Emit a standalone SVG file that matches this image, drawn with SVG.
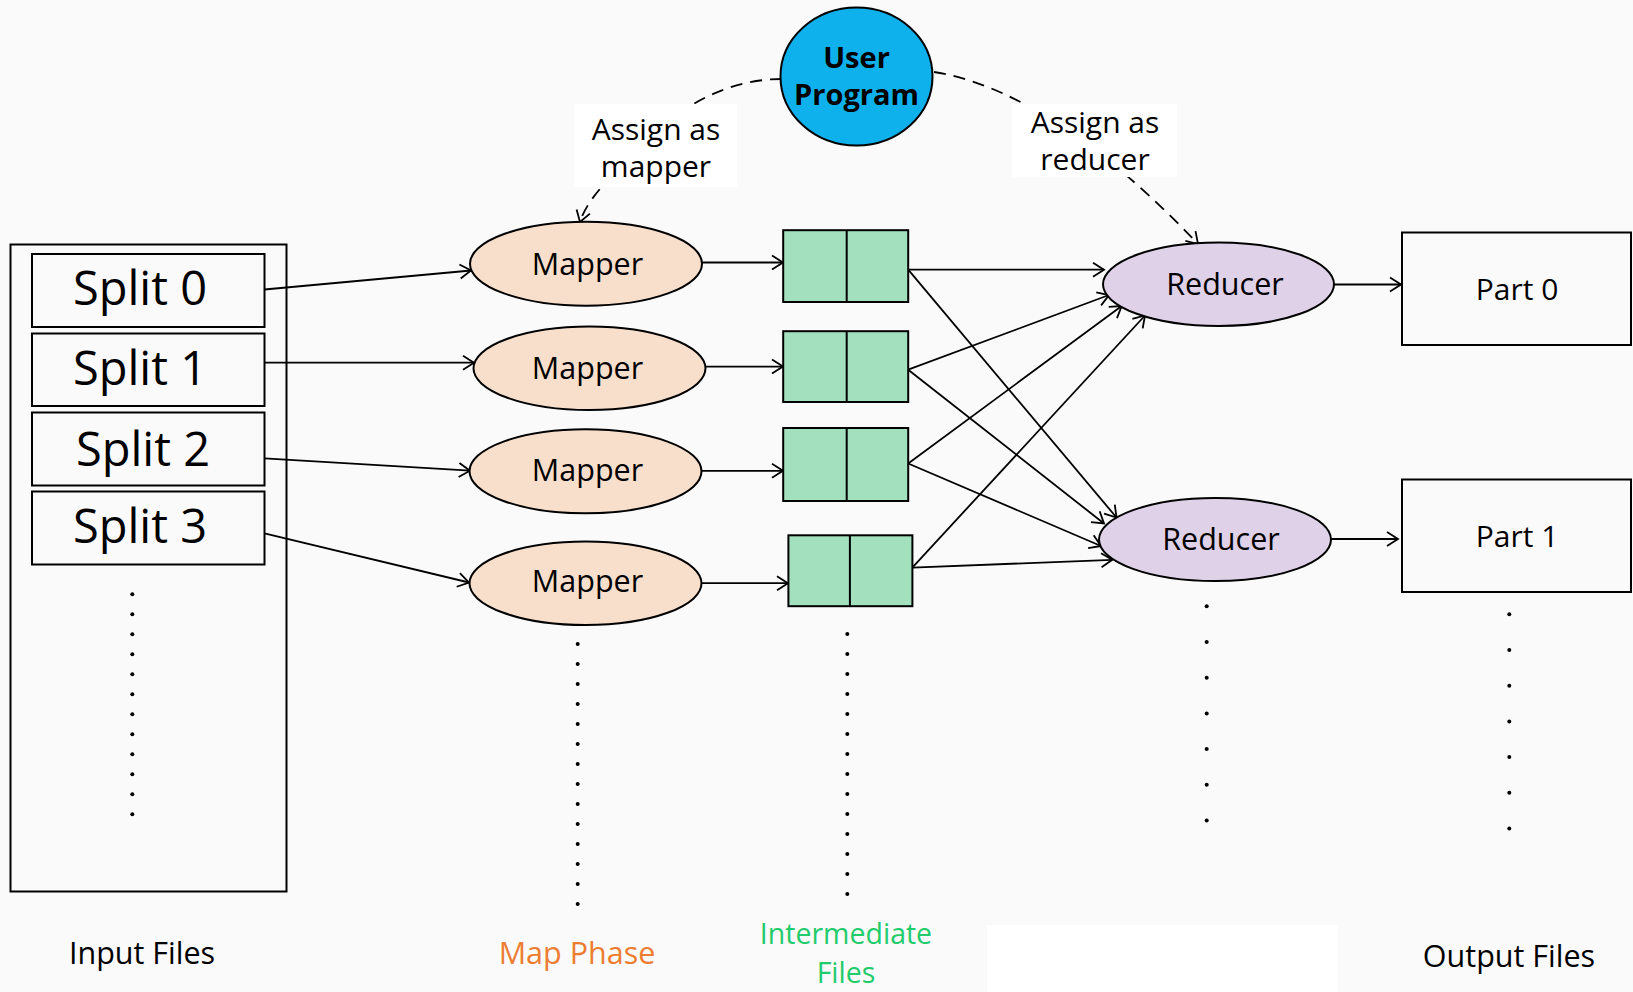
<svg xmlns="http://www.w3.org/2000/svg" width="1633" height="992" viewBox="0 0 1633 992">
  <style>
    text { font-family: "Open Sans", "Liberation Sans", sans-serif; fill: #000; }
    .box { fill: none; stroke: #000; stroke-width: 2; }
    .split { fill: none; stroke: #000; stroke-width: 2; }
    .split-t { font-size: 47px; text-anchor: middle; }
    .mapper { fill: #F8DFCC; stroke: #000; stroke-width: 2; }
    .reducer { fill: #DFD2E8; stroke: #000; stroke-width: 2; }
    .inter { fill: #A3E0BE; stroke: #000; stroke-width: 2; }
    .node-t { font-size: 30.5px; text-anchor: middle; }
    .part { fill: none; stroke: #000; stroke-width: 2; }
    .part-t { font-size: 30px; text-anchor: middle; }
    .lbl { font-size: 30px; text-anchor: middle; }
    .cap { font-size: 30.5px; text-anchor: middle; }
    .cap-2 { font-size: 28.5px; text-anchor: middle; fill: #1FCB6B; }
    .edge { fill: none; stroke: #000; stroke-width: 1.8; marker-end: url(#arrow); }
    .dash { fill: none; stroke: #000; stroke-width: 1.8; stroke-dasharray: 12 8; marker-end: url(#arrow); }
    .dot { fill: #000; }
  </style>
  <defs>
    <marker id="arrow" markerUnits="userSpaceOnUse" markerWidth="16" markerHeight="18" refX="13" refY="8" orient="auto" overflow="visible">
      <path d="M2,1 L13,8 L2,15" fill="none" stroke="#000" stroke-width="1.8"/>
    </marker>
  </defs>

  <!-- page background -->
  <rect x="0" y="0" width="1633" height="992" fill="#FAFAFA"/>
  <!-- blank text box near the bottom -->
  <rect x="987" y="925" width="351" height="67" fill="#FFFFFF"/>

  <!-- connectors -->
  <g id="connectors">
    <!-- split -> mapper -->
    <line class="edge" x1="264.5" y1="289.5" x2="471" y2="270.5"/>
    <line class="edge" x1="264.5" y1="362.7" x2="474" y2="362.7"/>
    <line class="edge" x1="264.5" y1="458.3" x2="470" y2="470.7"/>
    <line class="edge" x1="264.5" y1="533.3" x2="469" y2="582.5"/>
    <!-- mapper -> intermediate files -->
    <line class="edge" x1="702" y1="262.5" x2="783" y2="262.5"/>
    <line class="edge" x1="705" y1="366.6" x2="783" y2="366.6"/>
    <line class="edge" x1="701" y1="470.8" x2="783" y2="470.8"/>
    <line class="edge" x1="701" y1="583.2" x2="788" y2="583.2"/>
    <!-- intermediate files -> reducers -->
    <line class="edge" x1="908.2" y1="269.7" x2="1104" y2="269.7"/>
    <line class="edge" x1="908.2" y1="269.7" x2="1116.5" y2="517.5"/>
    <line class="edge" x1="908.2" y1="369.7" x2="1109" y2="295"/>
    <line class="edge" x1="908.2" y1="369.7" x2="1104" y2="523.5"/>
    <line class="edge" x1="908.2" y1="463.5" x2="1121.7" y2="306"/>
    <line class="edge" x1="908.2" y1="463.5" x2="1101" y2="546"/>
    <line class="edge" x1="912.3" y1="567.6" x2="1145" y2="315.5"/>
    <line class="edge" x1="912.3" y1="567.6" x2="1112.3" y2="559.8"/>
    <!-- reducers -> output parts -->
    <line class="edge" x1="1334" y1="284.5" x2="1401" y2="284.5"/>
    <line class="edge" x1="1331" y1="539" x2="1398" y2="539"/>
    <!-- user program assignments (dashed) -->
    <path class="dash" d="M782,79 C735,79 690,100 660,130 S590,190 580,222"/>
    <path class="dash" d="M934,72 C1000,82 1090,130 1198,244"/>
  </g>

  <!-- labels on the dashed assignments -->
  <g id="label-assign-mapper">
    <rect x="574" y="104" width="163" height="83" fill="#FFFFFF"/>
    <text class="lbl" x="656" y="140">Assign as</text>
    <text class="lbl" x="656" y="177">mapper</text>
  </g>
  <g id="label-assign-reducer">
    <rect x="1012" y="104" width="165" height="73" fill="#FFFFFF"/>
    <text class="lbl" x="1095" y="133">Assign as</text>
    <text class="lbl" x="1095" y="170">reducer</text>
  </g>

  <!-- user program -->
  <g id="user-program">
    <ellipse cx="856.5" cy="76.5" rx="76" ry="69" fill="#0FB1EC" stroke="#000" stroke-width="2"/>
    <text x="856.5" y="67.5" font-size="29" font-weight="bold" text-anchor="middle">User</text>
    <text x="856.5" y="105" font-size="29" font-weight="bold" text-anchor="middle">Program</text>
  </g>

  <!-- input files -->
  <g id="input-files">
    <rect class="box" x="10.5" y="244.5" width="276" height="647"/>
    <g id="split-0">
      <rect class="split" x="32" y="254" width="232.5" height="73"/>
      <text class="split-t" x="140" y="305">Split 0</text>
    </g>
    <g id="split-1">
      <rect class="split" x="32" y="333.5" width="232.5" height="72.5"/>
      <text class="split-t" x="140" y="385">Split 1</text>
    </g>
    <g id="split-2">
      <rect class="split" x="32" y="412.5" width="232.5" height="73"/>
      <text class="split-t" x="143" y="466">Split 2</text>
    </g>
    <g id="split-3">
      <rect class="split" x="32" y="491.5" width="232.5" height="73"/>
      <text class="split-t" x="140" y="542.5">Split 3</text>
    </g>
    <g id="input-dots">
      <circle class="dot" cx="132.3" cy="594.3" r="2"/>
      <circle class="dot" cx="132.3" cy="614.3" r="2"/>
      <circle class="dot" cx="132.3" cy="634.3" r="2"/>
      <circle class="dot" cx="132.3" cy="654.3" r="2"/>
      <circle class="dot" cx="132.3" cy="674.3" r="2"/>
      <circle class="dot" cx="132.3" cy="694.3" r="2"/>
      <circle class="dot" cx="132.3" cy="714.3" r="2"/>
      <circle class="dot" cx="132.3" cy="734.3" r="2"/>
      <circle class="dot" cx="132.3" cy="754.3" r="2"/>
      <circle class="dot" cx="132.3" cy="774.3" r="2"/>
      <circle class="dot" cx="132.3" cy="794.3" r="2"/>
      <circle class="dot" cx="132.3" cy="814.3" r="2"/>
    </g>
  </g>

  <!-- mappers -->
  <g id="mapper-0">
    <ellipse class="mapper" cx="586" cy="263.7" rx="116" ry="42"/>
    <text class="node-t" x="587.5" y="274.5">Mapper</text>
  </g>
  <g id="mapper-1">
    <ellipse class="mapper" cx="589.5" cy="368.3" rx="116" ry="41.7"/>
    <text class="node-t" x="587.5" y="378.8">Mapper</text>
  </g>
  <g id="mapper-2">
    <ellipse class="mapper" cx="585.5" cy="471.3" rx="116" ry="42"/>
    <text class="node-t" x="587.5" y="480.5">Mapper</text>
  </g>
  <g id="mapper-3">
    <ellipse class="mapper" cx="585.5" cy="583.3" rx="116" ry="41.7"/>
    <text class="node-t" x="587.5" y="592.2">Mapper</text>
  </g>
  <g id="mapper-dots">
    <circle class="dot" cx="577.7" cy="644" r="2"/>
    <circle class="dot" cx="577.7" cy="664" r="2"/>
    <circle class="dot" cx="577.7" cy="684" r="2"/>
    <circle class="dot" cx="577.7" cy="704" r="2"/>
    <circle class="dot" cx="577.7" cy="724" r="2"/>
    <circle class="dot" cx="577.7" cy="744" r="2"/>
    <circle class="dot" cx="577.7" cy="764" r="2"/>
    <circle class="dot" cx="577.7" cy="784" r="2"/>
    <circle class="dot" cx="577.7" cy="804" r="2"/>
    <circle class="dot" cx="577.7" cy="824" r="2"/>
    <circle class="dot" cx="577.7" cy="844" r="2"/>
    <circle class="dot" cx="577.7" cy="864" r="2"/>
    <circle class="dot" cx="577.7" cy="884" r="2"/>
    <circle class="dot" cx="577.7" cy="904" r="2"/>
  </g>

  <!-- intermediate files -->
  <g id="inter-0">
    <rect class="inter" x="783.2" y="230.2" width="125" height="71.8"/>
    <line x1="846.7" y1="230.2" x2="846.7" y2="302" stroke="#000" stroke-width="2"/>
  </g>
  <g id="inter-1">
    <rect class="inter" x="783.2" y="331.2" width="125" height="70.8"/>
    <line x1="846.7" y1="331.2" x2="846.7" y2="402" stroke="#000" stroke-width="2"/>
  </g>
  <g id="inter-2">
    <rect class="inter" x="783.2" y="428" width="125" height="73"/>
    <line x1="846.7" y1="428" x2="846.7" y2="501" stroke="#000" stroke-width="2"/>
  </g>
  <g id="inter-3">
    <rect class="inter" x="788.4" y="535.3" width="124" height="70.9"/>
    <line x1="849.9" y1="535.3" x2="849.9" y2="606.2" stroke="#000" stroke-width="2"/>
  </g>
  <g id="inter-dots">
    <circle class="dot" cx="847.3" cy="634" r="2"/>
    <circle class="dot" cx="847.3" cy="654" r="2"/>
    <circle class="dot" cx="847.3" cy="674" r="2"/>
    <circle class="dot" cx="847.3" cy="694" r="2"/>
    <circle class="dot" cx="847.3" cy="714" r="2"/>
    <circle class="dot" cx="847.3" cy="734" r="2"/>
    <circle class="dot" cx="847.3" cy="754" r="2"/>
    <circle class="dot" cx="847.3" cy="774" r="2"/>
    <circle class="dot" cx="847.3" cy="794" r="2"/>
    <circle class="dot" cx="847.3" cy="814" r="2"/>
    <circle class="dot" cx="847.3" cy="834" r="2"/>
    <circle class="dot" cx="847.3" cy="854" r="2"/>
    <circle class="dot" cx="847.3" cy="874" r="2"/>
    <circle class="dot" cx="847.3" cy="894" r="2"/>
  </g>

  <!-- reducers -->
  <g id="reducer-0">
    <ellipse class="reducer" cx="1218.5" cy="284.3" rx="115.5" ry="41.7"/>
    <text class="node-t" x="1225" y="294.5">Reducer</text>
  </g>
  <g id="reducer-1">
    <ellipse class="reducer" cx="1215" cy="539.5" rx="116" ry="41.6"/>
    <text class="node-t" x="1221" y="549.5">Reducer</text>
  </g>
  <g id="reducer-dots">
    <circle class="dot" cx="1206.7" cy="606.3" r="2"/>
    <circle class="dot" cx="1206.7" cy="642" r="2"/>
    <circle class="dot" cx="1206.7" cy="677.7" r="2"/>
    <circle class="dot" cx="1206.7" cy="713.4" r="2"/>
    <circle class="dot" cx="1206.7" cy="749.1" r="2"/>
    <circle class="dot" cx="1206.7" cy="784.8" r="2"/>
    <circle class="dot" cx="1206.7" cy="820.5" r="2"/>
  </g>

  <!-- output files -->
  <g id="part-0">
    <rect class="part" x="1402" y="232.5" width="229" height="112.5"/>
    <text class="part-t" x="1517" y="299.5">Part 0</text>
  </g>
  <g id="part-1">
    <rect class="part" x="1402" y="479.5" width="229" height="112.5"/>
    <text class="part-t" x="1517" y="546.5">Part 1</text>
  </g>
  <g id="output-dots">
    <circle class="dot" cx="1509.3" cy="614.3" r="2"/>
    <circle class="dot" cx="1509.3" cy="650" r="2"/>
    <circle class="dot" cx="1509.3" cy="685.7" r="2"/>
    <circle class="dot" cx="1509.3" cy="721.4" r="2"/>
    <circle class="dot" cx="1509.3" cy="757.1" r="2"/>
    <circle class="dot" cx="1509.3" cy="792.8" r="2"/>
    <circle class="dot" cx="1509.3" cy="828.5" r="2"/>
  </g>

  <!-- column captions -->
  <g id="captions">
    <text class="cap" x="142" y="963.5">Input Files</text>
    <text class="cap" x="577" y="963.5" style="fill:#ED7D31">Map Phase</text>
    <text class="cap-2"><tspan x="846" y="944">Intermediate</tspan><tspan x="846" y="983">Files</tspan></text>
    <text class="cap" x="1509" y="966.5">Output Files</text>
  </g>
</svg>
